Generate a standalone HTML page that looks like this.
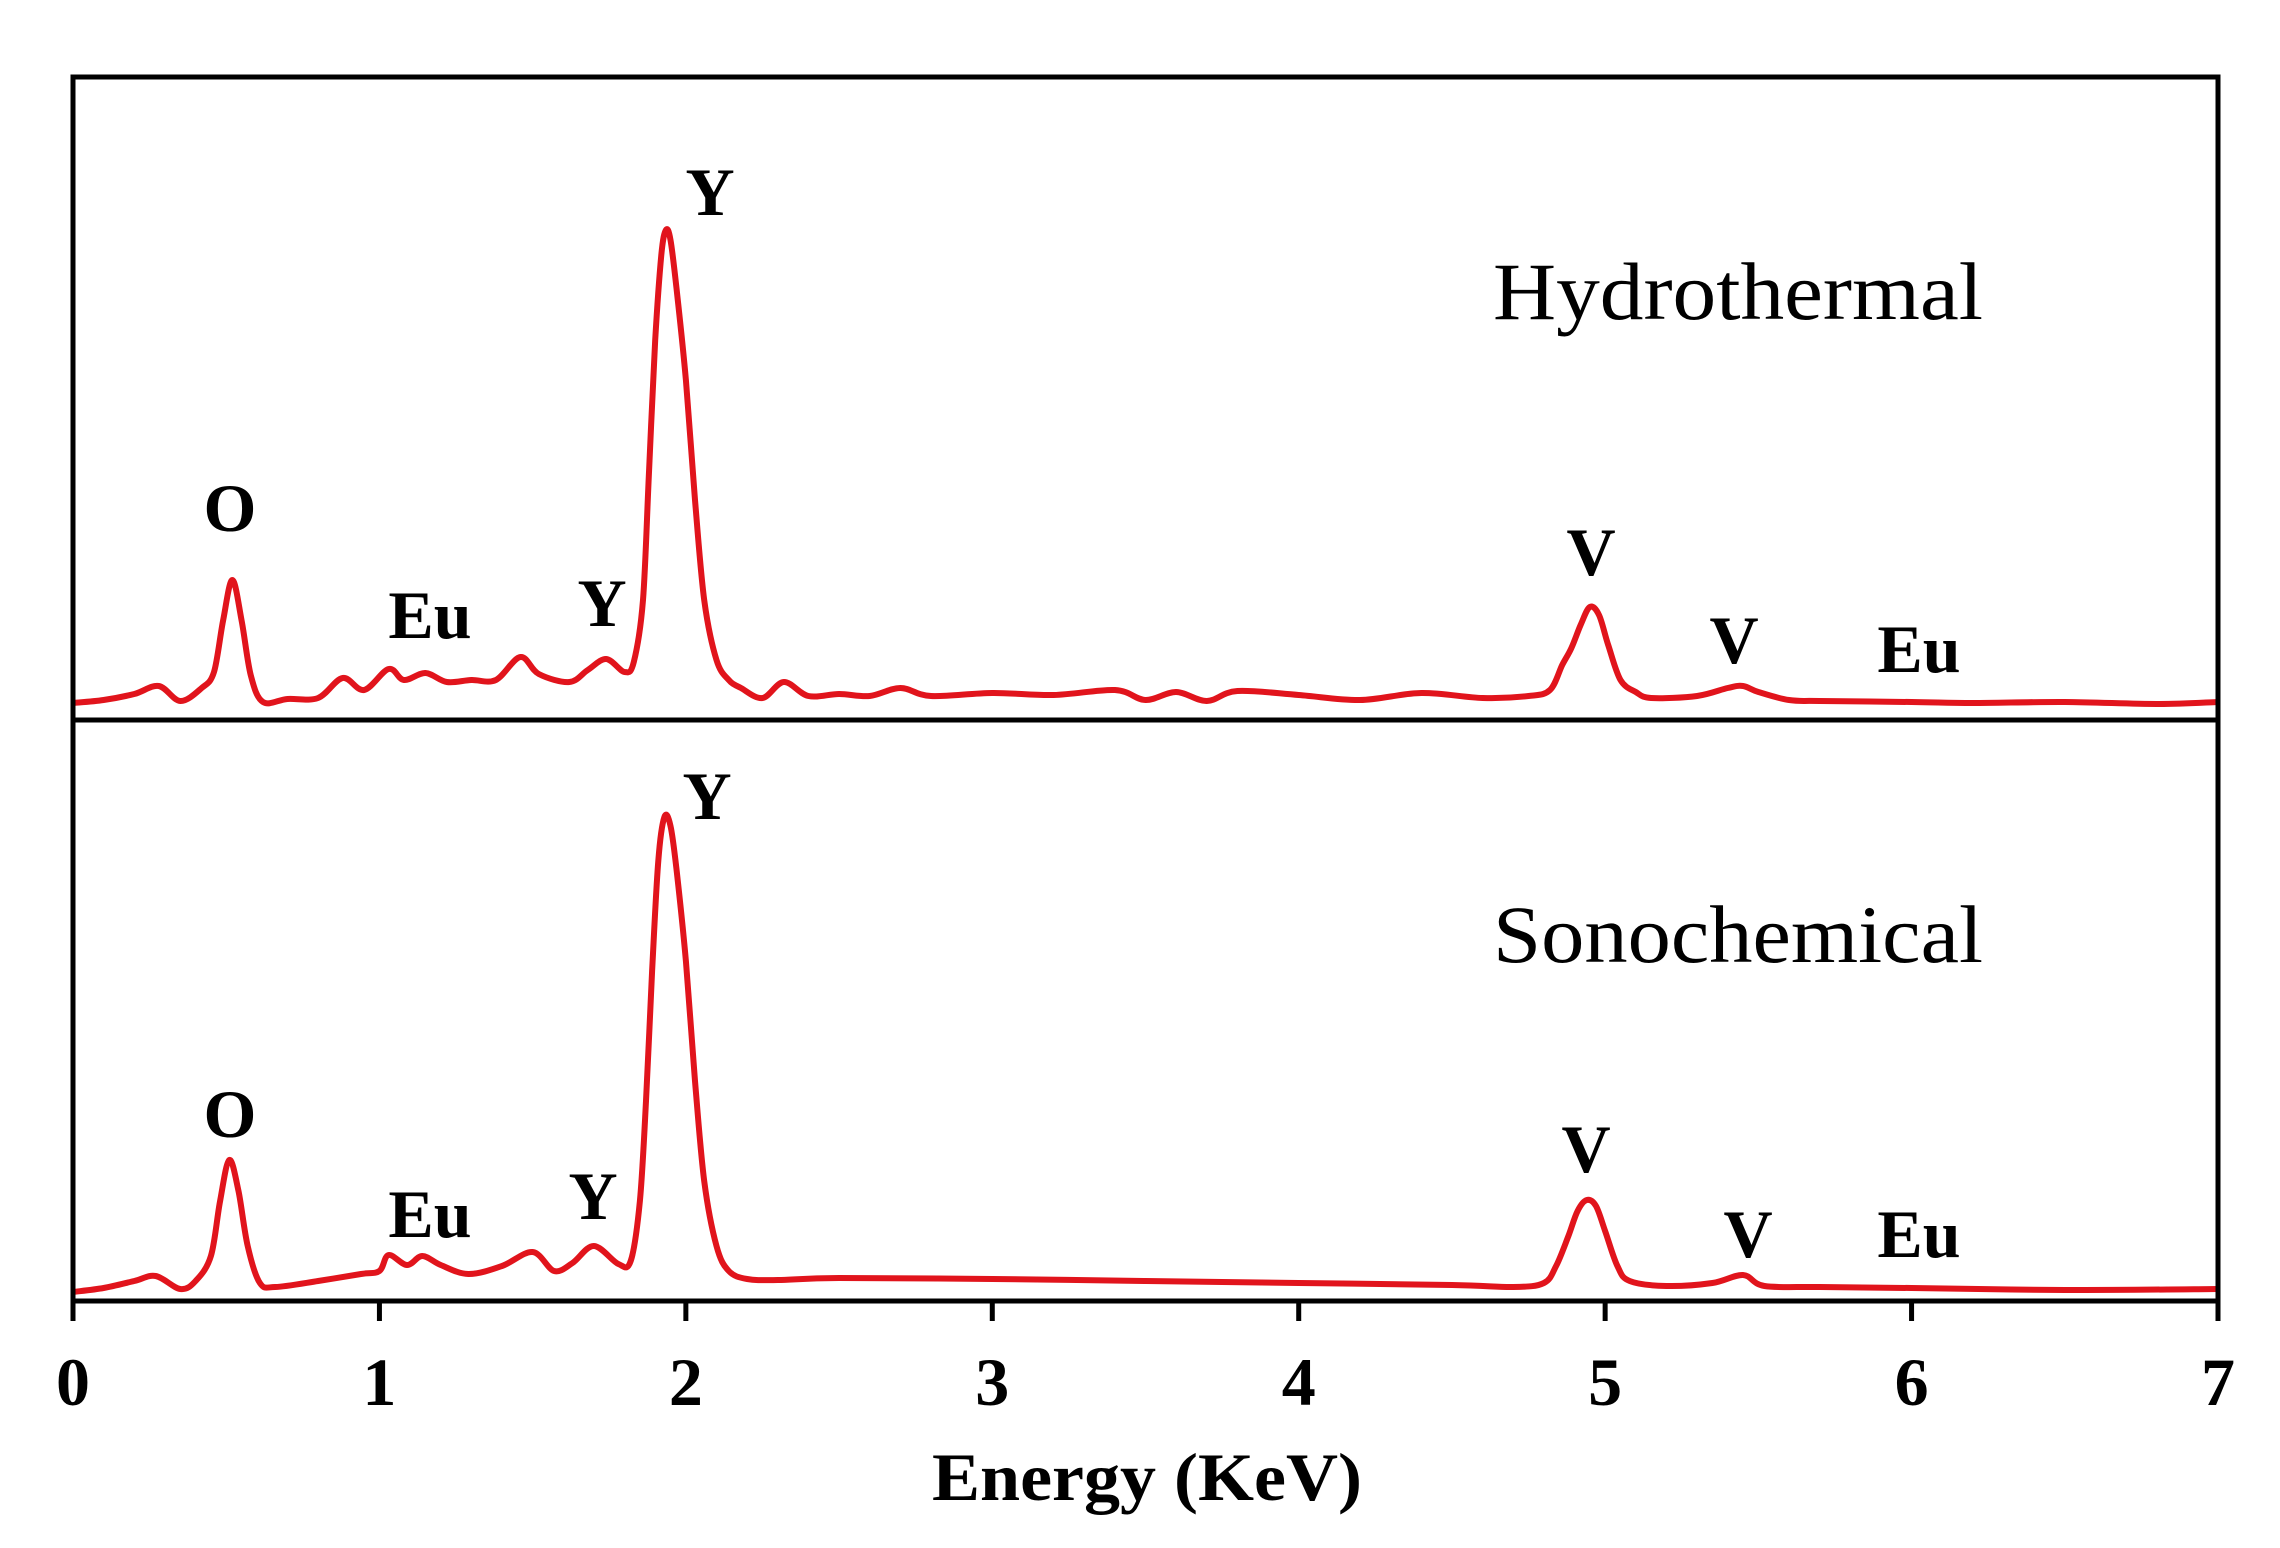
<!DOCTYPE html>
<html><head><meta charset="utf-8"><style>
html,body{margin:0;padding:0;background:#fff;}
svg{display:block;}
</style></head><body>
<svg id="chart" width="2280" height="1548" viewBox="0 0 2280 1548" xmlns="http://www.w3.org/2000/svg">
<defs>
<clipPath id="clipTop"><rect x="73" y="77" width="2145" height="643"/></clipPath>
<clipPath id="clipBot"><rect x="73" y="720" width="2145" height="581"/></clipPath>
</defs>
<g id="series"></g>
<rect x="73" y="77" width="2145" height="1224" fill="none" stroke="#000" stroke-width="5"/>
<line x1="73" y1="720" x2="2218" y2="720" stroke="#000" stroke-width="5"/>
<g id="ticks"></g>
<g font-family="'Liberation Serif', serif" font-weight="bold" font-size="68" fill="#000" text-anchor="middle">
<text x="230" y="531">O</text>
<text x="430" y="638">Eu</text>
<text x="602" y="626">Y</text>
<text x="710" y="215">Y</text>
<text x="1591" y="575">V</text>
<text x="1734" y="663">V</text>
<text x="1919" y="672">Eu</text>
<text x="230" y="1137">O</text>
<text x="430" y="1237">Eu</text>
<text x="593" y="1219">Y</text>
<text x="707" y="819">Y</text>
<text x="1586" y="1172">V</text>
<text x="1748" y="1257">V</text>
<text x="1919" y="1257">Eu</text>
</g>
<g font-family="'Liberation Serif', serif" font-size="82" fill="#000">
<text x="1493" y="319" textLength="490" lengthAdjust="spacingAndGlyphs">Hydrothermal</text>
<text x="1493" y="962" textLength="490" lengthAdjust="spacingAndGlyphs">Sonochemical</text>
</g>
<text x="932" y="1500" font-family="'Liberation Serif', serif" font-weight="bold" font-size="68" textLength="430" lengthAdjust="spacingAndGlyphs">Energy (KeV)</text>
</svg>
<script>
const tickValues = [0,1,2,3,4,5,6,7];
const tickLabels = ["0","1","2","3","4","5","6","7"];
const topEnergy = [0,0.1,0.2,0.28,0.35,0.42,0.46,0.49,0.52,0.55,0.58,0.62,0.7,0.8,0.88,0.95,1.03,1.08,1.15,1.22,1.3,1.38,1.46,1.52,1.62,1.68,1.74,1.8,1.83,1.86,1.88,1.9,1.92,1.935,1.95,1.97,2.0,2.03,2.06,2.1,2.14,2.18,2.25,2.32,2.4,2.5,2.6,2.7,2.8,3.0,3.2,3.4,3.5,3.6,3.7,3.8,4.0,4.2,4.4,4.6,4.75,4.82,4.86,4.89,4.92,4.95,4.98,5.01,5.05,5.1,5.15,5.3,5.4,5.45,5.5,5.6,5.7,6.0,6.2,6.5,6.8,7.0];
const topCounts = [17,20,26,34,19,32,48,100,140,100,45,18,21,22,42,30,51,40,47,38,40,40,63,46,38,50,61,48,58,120,250,380,465,490,480,430,340,220,120,60,40,32,22,38,24,26,24,32,24,27,25,30,20,28,19,29,25,20,27,22,24,30,55,72,95,113,105,75,40,28,22,24,32,34,28,20,19,18,17,18,16,18];
const botEnergy = [0,0.1,0.2,0.27,0.35,0.4,0.45,0.48,0.51,0.54,0.57,0.61,0.66,0.8,0.94,1.0,1.03,1.09,1.14,1.2,1.29,1.4,1.5,1.57,1.63,1.7,1.78,1.82,1.85,1.87,1.89,1.91,1.93,1.95,1.97,2.0,2.03,2.06,2.1,2.14,2.2,2.3,2.5,3.0,3.5,4.0,4.5,4.7,4.8,4.84,4.88,4.91,4.94,4.97,5.0,5.04,5.08,5.2,5.35,5.45,5.52,5.7,6.0,6.5,7.0];
const botCounts = [9,13,20,25,12,20,45,100,141,110,55,18,14,20,27,30,46,36,45,36,27,35,49,30,38,55,37,40,100,200,330,440,484,475,430,340,220,120,55,30,22,21,23,22,20,18,16,14,18,35,65,90,101,95,70,35,20,15,18,26,15,14,13,11,12];

const NS = "http://www.w3.org/2000/svg";
const X0 = 73, X1 = 2218, EMAX = 7;
function xScale(e){ return X0 + (X1 - X0) * e / EMAX; }
function yTop(v){ return 720 - v; }
function yBot(v){ return 1301 - v; }

function buildPath(es, vs, yf){
  const pts = es.map((e, i) => [xScale(e), yf(vs[i])]);
  let d = "M" + pts[0][0].toFixed(1) + " " + pts[0][1].toFixed(1);
  for (let i = 0; i < pts.length - 1; i++){
    const p0 = pts[Math.max(0, i - 1)], p1 = pts[i], p2 = pts[i + 1], p3 = pts[Math.min(pts.length - 1, i + 2)];
    const c1x = p1[0] + (p2[0] - p0[0]) / 6, c1y = p1[1] + (p2[1] - p0[1]) / 6;
    const c2x = p2[0] - (p3[0] - p1[0]) / 6, c2y = p2[1] - (p3[1] - p1[1]) / 6;
    d += " C" + c1x.toFixed(1) + " " + c1y.toFixed(1) + " " + c2x.toFixed(1) + " " + c2y.toFixed(1) + " " + p2[0].toFixed(1) + " " + p2[1].toFixed(1);
  }
  return d;
}
const g = document.getElementById("series");
const p1 = document.createElementNS(NS, "path");


p1.setAttribute("d", buildPath(topEnergy, topCounts, yTop));
p1.setAttribute("fill", "none");
p1.setAttribute("stroke", "#e1141c");
p1.setAttribute("stroke-width", "6");
p1.setAttribute("stroke-linejoin", "round");
p1.setAttribute("clip-path", "url(#clipTop)");
g.appendChild(p1);
const p2 = document.createElementNS(NS, "path");


p2.setAttribute("d", buildPath(botEnergy, botCounts, yBot));
p2.setAttribute("fill", "none");
p2.setAttribute("stroke", "#e1141c");
p2.setAttribute("stroke-width", "6");
p2.setAttribute("stroke-linejoin", "round");
p2.setAttribute("clip-path", "url(#clipBot)");
g.appendChild(p2);

const tg = document.getElementById("ticks");
for (let i = 0; i < tickValues.length; i++){
  const x = xScale(tickValues[i]);
  const ln = document.createElementNS(NS, "line");
  
  
  ln.setAttribute("x1", x); ln.setAttribute("x2", x);
  ln.setAttribute("y1", 1301); ln.setAttribute("y2", 1321);
  ln.setAttribute("stroke", "#000"); ln.setAttribute("stroke-width", "5");
  tg.appendChild(ln);
  const t = document.createElementNS(NS, "text");
  
  
  t.setAttribute("x", x); t.setAttribute("y", 1405);
  t.setAttribute("text-anchor", "middle");
  t.setAttribute("font-family", "'Liberation Serif', serif");
  t.setAttribute("font-weight", "bold");
  t.setAttribute("font-size", "68");
  t.textContent = tickLabels[i];
  tg.appendChild(t);
}
</script>
</body></html>
